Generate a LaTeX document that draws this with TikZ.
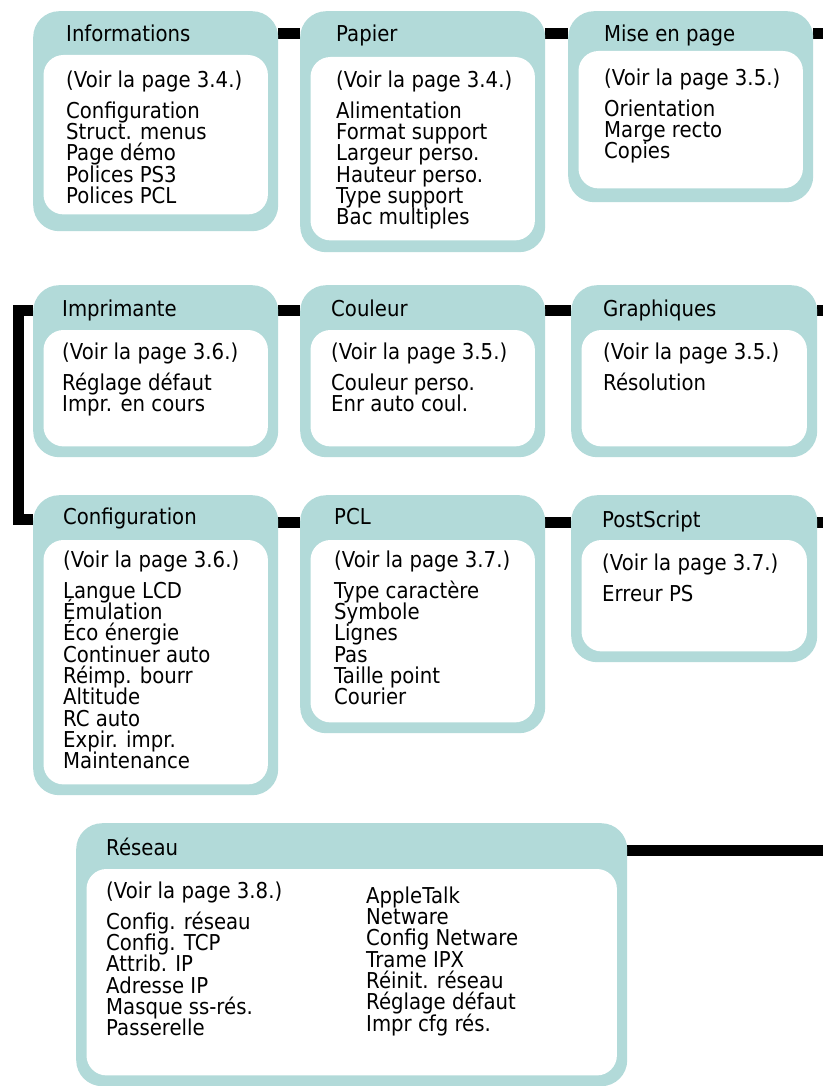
\documentclass[tikz,border=0pt]{standalone}
\usepackage{fontspec}
\newfontfamily\menufont{DejaVu Sans}[FakeStretch=0.9]
\usepackage{tikz}
\usetikzlibrary{backgrounds}
\definecolor{menuteal}{HTML}{B2DAD9}
\setlength{\lineskiplimit}{-20pt}
\newlength\voirwd
\AtBeginDocument{%
  \settowidth\voirwd{\menufont\fontsize{20}{20}\selectfont(Voir la page 3.4.)}%
  \pgfmathsetmacro\menusize{20*176/\voirwd}%
  \pgfmathsetmacro\menurise{0.76*\menusize}}
\tikzset{
  menubox/.style={fill=menuteal, rounded corners=26pt, anchor=north west,
                  inner sep=0pt},
  panel/.style={fill=white, rounded corners=20pt},
  menutitle/.style={anchor=base west, inner sep=0pt,
                    font=\menufont\fontsize{\menusize}{21.3}\selectfont},
  menuitems/.style={menutitle, align=left, anchor=north west,
                    yshift=\menurise pt},
  link/.style={draw=black, line width=11pt, line join=miter},
}
\begin{document}
\begin{tikzpicture}[x=1pt, y=-1pt]
  \useasboundingbox (0,0) rectangle (823,1086);
  % menu boxes
  \node[menubox, minimum width=245pt, minimum height=220pt] (info) at (33,11) {};
  \node[menubox, minimum width=245pt, minimum height=241pt] (papier) at (300,11) {};
  \node[menubox, minimum width=245pt, minimum height=191pt] (mise) at (568,11) {};
  \node[menubox, minimum width=245pt, minimum height=172pt] (impr) at (33,285) {};
  \node[menubox, minimum width=245pt, minimum height=172pt] (couleur) at (300,285) {};
  \node[menubox, minimum width=246pt, minimum height=172pt] (graph) at (571,285) {};
  \node[menubox, minimum width=245pt, minimum height=300pt] (config) at (33,495) {};
  \node[menubox, minimum width=245pt, minimum height=238pt] (pcl) at (300,495) {};
  \node[menubox, minimum width=246pt, minimum height=167pt] (postscript) at (571,495) {};
  \node[menubox, minimum width=551pt, minimum height=263pt] (reseau) at (76,823) {};
  \foreach \b/\padtop/\padbot in {info/44/17,papier/46/12,mise/40/14,impr/45/11,
      couleur/45/11,graph/45/11,config/45/11,pcl/45/11,postscript/45/11,reseau/46/11}
    \fill[panel] ([shift={(10.5,\padtop)}]\b.north west) rectangle
      ([shift={(-10.5,-\padbot)}]\b.south east);

  % titles and entries
  \node[menutitle] (infotitle) at ([shift={(33,31)}]info.north west) {Informations};
  \node[menuitems] (infoitems) at ([shift={(33,76)}]info.north west)
    {(Voir la page 3.4.)\\[9.7pt]Configuration\\Struct. menus\\Page démo\\
     Polices PS3\\Polices PCL};
  \node[menutitle] (papiertitle) at ([shift={(36,31)}]papier.north west) {Papier};
  \node[menuitems] (papieritems) at ([shift={(36,76)}]papier.north west)
    {(Voir la page 3.4.)\\[9.7pt]Alimentation\\Format support\\Largeur perso.\\
     Hauteur perso.\\Type support\\Bac multiples};
  \node[menutitle] (misetitle) at ([shift={(36,31)}]mise.north west) {Mise en page};
  \node[menuitems] (miseitems) at ([shift={(36,74)}]mise.north west)
    {(Voir la page 3.5.)\\[9.7pt]Orientation\\Marge recto\\Copies};
  \node[menutitle] (imprtitle) at ([shift={(29,31)}]impr.north west) {Imprimante};
  \node[menuitems] (impritems) at ([shift={(29,74)}]impr.north west)
    {(Voir la page 3.6.)\\[9.7pt]Réglage défaut\\Impr. en cours};
  \node[menutitle] (couleurtitle) at ([shift={(31,31)}]couleur.north west) {Couleur};
  \node[menuitems] (couleuritems) at ([shift={(31,74)}]couleur.north west)
    {(Voir la page 3.5.)\\[9.7pt]Couleur perso.\\Enr auto coul.};
  \node[menutitle] (graphtitle) at ([shift={(32,31)}]graph.north west) {Graphiques};
  \node[menuitems] (graphitems) at ([shift={(32,74)}]graph.north west)
    {(Voir la page 3.5.)\\[9.7pt]Résolution};
  \node[menutitle] (configtitle) at ([shift={(30,29)}]config.north west) {Configuration};
  \node[menuitems] (configitems) at ([shift={(30,72)}]config.north west)
    {(Voir la page 3.6.)\\[9.7pt]Langue LCD\\Émulation\\Éco énergie\\
     Continuer auto\\Réimp. bourr\\Altitude\\RC auto\\Expir. impr.\\Maintenance};
  \node[menutitle] (pcltitle) at ([shift={(34,29)}]pcl.north west) {PCL};
  \node[menuitems] (pclitems) at ([shift={(34,72)}]pcl.north west)
    {(Voir la page 3.7.)\\[9.7pt]Type caractère\\Symbole\\Lignes\\Pas\\
     Taille point\\Courier};
  \node[menutitle] (pstitle) at ([shift={(31,32)}]postscript.north west) {PostScript};
  \node[menuitems] (psitems) at ([shift={(31,75)}]postscript.north west)
    {(Voir la page 3.7.)\\[9.7pt]Erreur PS};
  \node[menutitle] (reseautitle) at ([shift={(30,32)}]reseau.north west) {Réseau};
  \node[menuitems] (reseauitems) at ([shift={(30,75)}]reseau.north west)
    {(Voir la page 3.8.)\\[9.7pt]Config. réseau\\Config. TCP\\Attrib. IP\\
     Adresse IP\\Masque ss-rés.\\Passerelle};
  \node[menuitems] (reseaumore) at ([shift={(290,80)}]reseau.north west)
    {AppleTalk\\Netware\\Config Netware\\Trame IPX\\Réinit. réseau\\
     Réglage défaut\\Impr cfg rés.};

  % connectors
  \coordinate (edgeA) at (823,34);
  \coordinate (edgeB) at (823,310.5);
  \coordinate (edgeC) at (823,522);
  \coordinate (edgeD) at (823,850);
  \begin{scope}[on background layer]
    \draw[link] ([yshift=-23pt]info.north east) -- ([yshift=-23pt]papier.north west);
    \draw[link] ([yshift=-23pt]papier.north east) -- ([yshift=-23pt]mise.north west);
    \draw[link] ([yshift=-23pt]mise.north east) -- (edgeA);
    \draw[link] ([yshift=-25.5pt]impr.north east) -- ([yshift=-25.5pt]couleur.north west);
    \draw[link] ([yshift=-25.5pt]couleur.north east) -- ([yshift=-25.5pt]graph.north west);
    \draw[link] ([yshift=-25.5pt]graph.north east) -- (edgeB);
    \draw[link] ([yshift=-25.5pt]impr.north west) -- ++(-14.5,0)
      |- ([yshift=-24.5pt]config.north west);
    \draw[link] ([yshift=-27pt]config.north east) -- ([yshift=-27pt]pcl.north west);
    \draw[link] ([yshift=-27pt]pcl.north east) -- ([yshift=-27pt]postscript.north west);
    \draw[link] ([yshift=-27pt]postscript.north east) -- (edgeC);
    \draw[link] ([yshift=-27pt]reseau.north east) -- (edgeD);
  \end{scope}
\end{tikzpicture}
\end{document}
